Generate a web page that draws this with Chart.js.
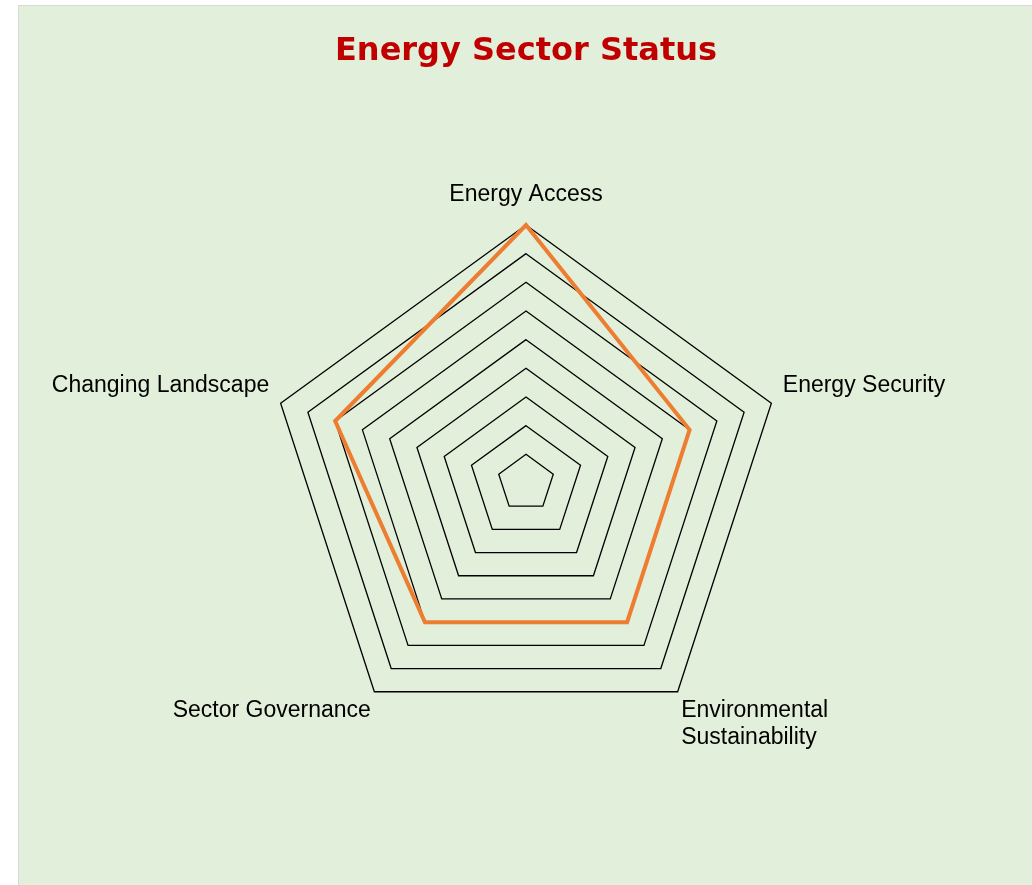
<!DOCTYPE html>
<html>
<head>
<meta charset="utf-8">
<script src="https://cdn.jsdelivr.net/npm/chart.js@4.4.0/dist/chart.umd.min.js"></script>
<style>
  html, body { margin: 0; padding: 0; background: #ffffff; overflow: hidden; }
  #stage { position: absolute; left: 0; top: 0; width: 1032px; height: 885px; overflow: hidden; }
  #wrap {
    position: absolute; left: 18px; top: 5px; width: 1014px; height: 880px;
    background: #E2EFDA; border-left: 1px solid #D9D9D9; border-top: 1px solid #D9D9D9;
    box-sizing: border-box;
  }
  #holder { position: absolute; left: 6px; top: 6px; width: 1040px; height: 879px; }
</style>
</head>
<body>
<div id="stage">
  <div id="wrap"></div>
  <div id="holder"><canvas id="c"></canvas></div>
</div>
<script>
const categories = ["Energy Access", "Energy Security", ["Environmental", "Sustainability"], "Sector Governance", "Changing Landscape"];
const seriesValues = [9, 6, 6, 6, 7];
const scaleMin = 0;
const scaleMax = 9;
const scaleStep = 1;
const labelPadding = [17, 12, 6, 6, 12];

new Chart(document.getElementById('c'), {
  type: 'radar',
  data: {
    labels: categories,
    datasets: [{
      label: 'Status',
      data: seriesValues,
      borderColor: '#ED7D31',
      borderWidth: 4,
      fill: false,
      pointRadius: 0,
      pointHoverRadius: 0,
      tension: 0
    }]
  },
  options: {
    responsive: true,
    maintainAspectRatio: false,
    animation: false,
    layout: { padding: { top: 0, bottom: 119, left: 0, right: 0 } },
    plugins: {
      legend: { display: false },
      tooltip: { enabled: false },
      title: {
        display: true,
        text: 'Energy Sector Status',
        color: '#C00000',
        font: { family: 'DejaVu Sans, sans-serif', size: 32, weight: 'bold' },
        padding: { top: 26, bottom: 89 }
      }
    },
    scales: {
      r: {
        min: scaleMin,
        max: scaleMax,
        ticks: { stepSize: scaleStep, display: false },
        grid: { color: '#000000', lineWidth: 1.3 },
        angleLines: { display: false },
        pointLabels: {
          color: '#000000',
          font: { family: 'Liberation Sans, Arial, sans-serif', size: 23 },
          padding: (ctx) => labelPadding[ctx.index]
        }
      }
    }
  }
});
</script>
</body>
</html>
